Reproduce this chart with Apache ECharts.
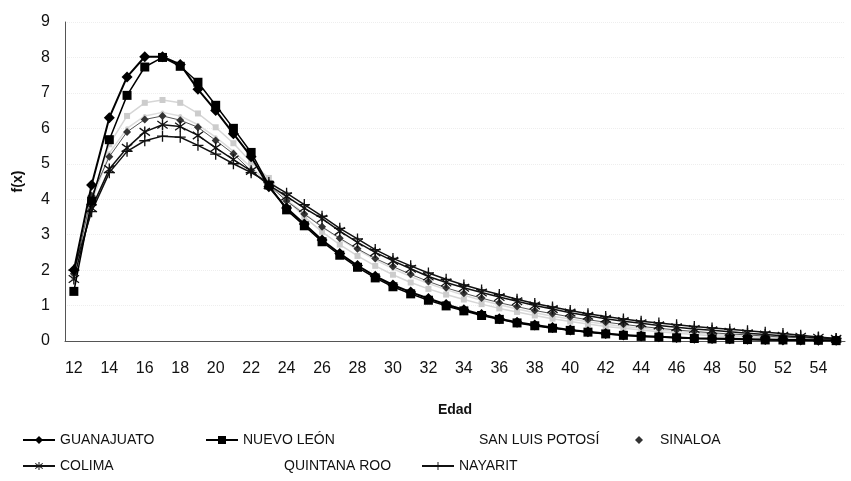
<!DOCTYPE html>
<html>
<head>
<meta charset="utf-8">
<script src="https://cdn.jsdelivr.net/npm/echarts@6/dist/echarts.min.js"></script>
<style>html,body{margin:0;padding:0;background:#fff;}#c{width:851px;height:481px;}</style>
</head>
<body>
<div id="c"></div>
<script>
// Ages (categories)
var ages = ['12','13','14','15','16','17','18','19','20','21','22','23','24','25','26','27','28','29','30','31','32','33','34','35','36','37','38','39','40','41','42','43','44','45','46','47','48','49','50','51','52','53','54','55'];
var yTicks = [0,1,2,3,4,5,6,7,8,9];

var guanajuato = [2.0,4.4,6.3,7.45,8.02,8.02,7.8,7.1,6.5,5.85,5.2,4.35,3.75,3.3,2.85,2.47,2.13,1.83,1.58,1.38,1.2,1.03,0.88,0.75,0.63,0.53,0.45,0.38,0.31,0.26,0.21,0.17,0.14,0.12,0.1,0.08,0.07,0.06,0.05,0.04,0.03,0.03,0.02,0.02];
var nuevoLeon = [1.4,3.95,5.68,6.93,7.73,8.0,7.75,7.3,6.65,6.0,5.32,4.4,3.7,3.25,2.8,2.42,2.08,1.78,1.53,1.33,1.15,0.99,0.85,0.72,0.61,0.51,0.43,0.36,0.3,0.25,0.2,0.16,0.13,0.11,0.09,0.07,0.06,0.05,0.04,0.03,0.03,0.02,0.02,0.01];
var sanLuisPotosi = [1.8,4.0,5.55,6.35,6.72,6.8,6.72,6.42,6.03,5.58,5.04,4.6,4.0,3.5,3.08,2.72,2.4,2.12,1.87,1.65,1.47,1.31,1.17,1.04,0.92,0.82,0.72,0.63,0.55,0.48,0.41,0.36,0.31,0.26,0.22,0.18,0.15,0.13,0.11,0.09,0.07,0.06,0.05,0.04];
var sinaloa = [1.9,4.1,5.2,5.9,6.25,6.35,6.23,6.03,5.66,5.28,4.8,4.4,3.95,3.58,3.22,2.9,2.6,2.33,2.1,1.88,1.68,1.5,1.35,1.21,1.08,0.97,0.86,0.77,0.68,0.6,0.53,0.47,0.41,0.36,0.31,0.27,0.23,0.2,0.17,0.14,0.11,0.09,0.07,0.05];
var colima = [1.75,3.75,4.85,5.45,5.9,6.1,6.05,5.8,5.45,5.12,4.8,4.4,4.08,3.75,3.45,3.1,2.78,2.5,2.26,2.04,1.82,1.65,1.5,1.37,1.24,1.12,1.0,0.9,0.8,0.71,0.63,0.56,0.5,0.44,0.39,0.34,0.3,0.26,0.22,0.18,0.15,0.12,0.09,0.06];
var quintanaRoo = [1.85,3.9,5.3,6.0,6.35,6.45,6.35,6.1,5.75,5.35,4.9,4.45,3.98,3.6,3.22,2.88,2.57,2.29,2.04,1.82,1.62,1.45,1.29,1.15,1.02,0.9,0.8,0.7,0.62,0.54,0.47,0.41,0.36,0.31,0.27,0.23,0.19,0.16,0.13,0.11,0.09,0.07,0.05,0.04];
var nayarit = [2.0,3.65,4.75,5.35,5.65,5.78,5.75,5.52,5.27,5.0,4.75,4.47,4.17,3.85,3.52,3.18,2.88,2.58,2.33,2.12,1.92,1.74,1.58,1.44,1.31,1.18,1.06,0.96,0.86,0.77,0.69,0.62,0.56,0.51,0.46,0.41,0.37,0.33,0.29,0.25,0.21,0.16,0.11,0.07];

var names = ['GUANAJUATO','NUEVO LEÓN','SAN LUIS POTOSÍ','SINALOA','COLIMA','QUINTANA ROO','NAYARIT'];

var PLUS = 'path://M4.4,0H5.6V4.4H10V5.6H5.6V10H4.4V5.6H0V4.4H4.4Z';
var STAR = 'path://M4.4,0H5.6V10H4.4Z M0.3,2.1L0.9,1.1L9.7,7.9L9.1,8.9Z M0.3,7.9L9.1,1.1L9.7,2.1L0.9,8.9Z';

var font = 'Liberation Sans, Arial, sans-serif';
var chart = echarts.init(document.getElementById('c'), null, {renderer:'canvas'});

function leg(name, left, top, extra) {
  var d = {name: name};
  if (extra) { for (var k in extra) d[k] = extra[k]; }
  return {
    data: [d], left: left, top: top, padding: 0, itemWidth: 32, itemHeight: 10,
    selectedMode: false,
    textStyle: {fontFamily: font, fontSize: 14, color: '#111'}
  };
}

var hidden = {itemStyle:{opacity:0}, lineStyle:{opacity:0}};

chart.setOption({
  backgroundColor: '#fff',
  animation: false,
  grid: {left: 65, right: 6, top: 22, bottom: 140, containLabel: false},
  legend: [
    leg(names[0], 22, 433),
    leg(names[1], 205, 433),
    leg(names[2], 441, 433, hidden),
    leg(names[3], 622, 433, {lineStyle:{opacity:0}}),
    leg(names[4], 22, 459),
    leg(names[5], 246, 459, hidden),
    leg(names[6], 421, 459)
  ],
  xAxis: {
    type: 'category', data: ages, boundaryGap: true,
    name: 'Edad', nameLocation: 'middle', nameGap: 62,
    nameTextStyle: {fontFamily: font, fontSize: 14, fontWeight: 'bold', color: '#111', padding: [0, 0, 0, 0]},
    axisLine: {lineStyle: {color: '#555', width: 1}},
    axisTick: {show: false},
    axisLabel: {interval: 1, fontFamily: font, fontSize: 16, color: '#111', margin: 20},
    splitLine: {show: false}
  },
  yAxis: {
    type: 'value', min: yTicks[0], max: yTicks[yTicks.length-1], interval: 1,
    name: 'f(x)', nameLocation: 'middle', nameGap: 40,
    nameTextStyle: {fontFamily: font, fontSize: 14, fontWeight: 'bold', color: '#111'},
    axisLine: {show: true, lineStyle: {color: '#555', width: 1}},
    axisTick: {show: false},
    axisLabel: {fontFamily: font, fontSize: 16, color: '#111', margin: 15},
    splitLine: {show: true, lineStyle: {color: '#eeeeee', type: 'dotted'}}
  },
  series: [
    {name: names[2], type: 'line', data: sanLuisPotosi, symbol: 'rect', symbolSize: 6,
     itemStyle: {color: '#cccccc'}, lineStyle: {color: '#d6d6d6', width: 1.5}, z: 1},
    {name: names[5], type: 'line', data: quintanaRoo, symbol: 'circle', symbolSize: 4,
     itemStyle: {color: '#d0d0d0'}, lineStyle: {color: '#dcdcdc', width: 1.5}, z: 1},
    {name: names[3], type: 'line', data: sinaloa, symbol: 'diamond', symbolSize: 8,
     itemStyle: {color: '#333'}, lineStyle: {color: '#555', width: 1}, z: 2},
    {name: names[4], type: 'line', data: colima, symbol: STAR, symbolSize: 11,
     itemStyle: {color: '#111'}, lineStyle: {color: '#111', width: 1.5}, z: 3},
    {name: names[6], type: 'line', data: nayarit, symbol: PLUS, symbolSize: 11,
     itemStyle: {color: '#111'}, lineStyle: {color: '#111', width: 1.5}, z: 3},
    {name: names[1], type: 'line', data: nuevoLeon, symbol: 'rect', symbolSize: 9,
     itemStyle: {color: '#000'}, lineStyle: {color: '#000', width: 1.5}, z: 4},
    {name: names[0], type: 'line', data: guanajuato, symbol: 'diamond', symbolSize: 11,
     itemStyle: {color: '#000'}, lineStyle: {color: '#000', width: 2}, z: 5}
  ]
});
</script>
</body>
</html>
